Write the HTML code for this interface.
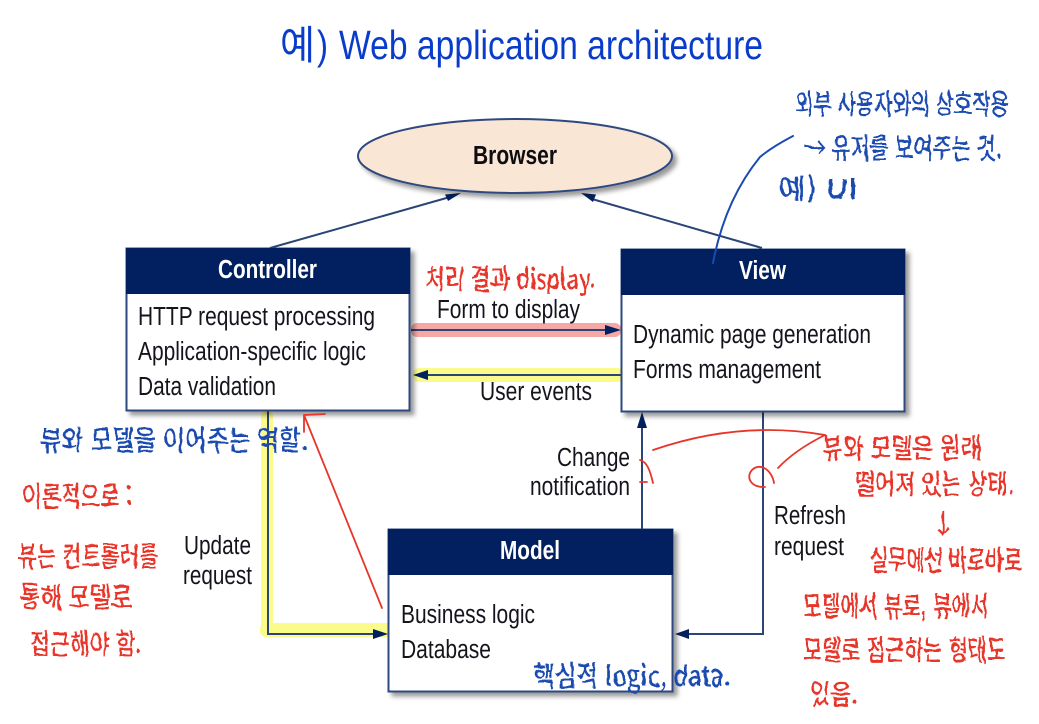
<!DOCTYPE html>
<html lang="ko">
<head>
<meta charset="utf-8">
<title>Web application architecture</title>
<style>
html,body{margin:0;padding:0;background:#fff;width:1039px;height:724px;overflow:hidden}
svg{display:block}
text{font-family:"Liberation Sans","Noto Sans CJK KR",sans-serif}
.lb{font-size:25.500px;fill:#14141c}
.hd{font-size:25.500px;font-weight:bold;fill:#fff}
.r{font-family:"Noto Sans CJK KR","Liberation Sans",sans-serif;fill:#e8352a;font-size:28px;font-weight:500}
.b{font-family:"Noto Sans CJK KR","Liberation Sans",sans-serif;fill:#1a4bb0;font-size:28px;font-weight:500}
.box{fill:#fff;stroke:#2f4a80;stroke-width:2}
.head{fill:#02205f}
.ln{stroke:#2b4576;stroke-width:2;fill:none}
.ah{fill:#02205f}
</style>
</head>
<body>
<svg width="1039" height="724" viewBox="0 0 1039 724" xmlns="http://www.w3.org/2000/svg">
<defs>
<filter id="sh" x="-10%" y="-10%" width="125%" height="125%">
<feDropShadow dx="4" dy="4" stdDeviation="2.5" flood-color="#000" flood-opacity=".4"/>
</filter>
<filter id="wob" x="-5%" y="-20%" width="110%" height="140%">
<feTurbulence type="fractalNoise" baseFrequency="0.09" numOctaves="2" seed="4"/>
<feDisplacementMap in="SourceGraphic" scale="5"/>
</filter>
</defs>

<!-- title -->
<text x="280" y="59" font-size="40" fill="#0a3ccb" textLength="35" lengthAdjust="spacingAndGlyphs" style="font-family:'Noto Sans CJK KR',sans-serif">예</text>
<text x="317" y="59" font-size="41" fill="#0a3ccb" textLength="11" lengthAdjust="spacingAndGlyphs">)</text>
<text x="339" y="59" font-size="41" fill="#0a3ccb" textLength="424" lengthAdjust="spacingAndGlyphs">Web application architecture</text>

<!-- highlights -->
<rect x="411" y="323" width="210" height="14" rx="6" fill="#f7a8a4"/>
<rect x="413" y="368" width="211" height="14" rx="6" fill="#fbfb8c"/>
<rect x="261" y="411" width="12" height="226" rx="5" fill="#fbfb8c"/>
<rect x="260" y="623" width="137" height="14" rx="6" fill="#fbfb8c"/>

<!-- connectors -->
<path class="ln" d="M270 248 L450 197"/>
<path class="ah" d="M461 193 L445 194.500 L448 201 Z"/>
<path class="ln" d="M762 248 L592 199"/>
<path class="ah" d="M581 193 L596 194.500 L593 202 Z"/>
<path class="ln" d="M411 330 H610"/>
<path class="ah" d="M621 330 L605 325 V335 Z"/>
<path class="ln" d="M622 375 H425"/>
<path class="ah" d="M413 375 L428 370 V380 Z"/>
<path class="ln" d="M268 411 V634 H380"/>
<path class="ah" d="M388 634 L373 629 V639 Z"/>
<path class="ln" d="M642 529 V425"/>
<path class="ah" d="M642 412 L637 428 H647 Z"/>
<path class="ln" d="M763 412 V634 H688"/>
<path class="ah" d="M675 634 L689 629 V639 Z"/>

<!-- browser -->
<ellipse cx="515" cy="156" rx="157" ry="37" fill="#fae6d5" stroke="#2f4a80" stroke-width="2" filter="url(#sh)"/>
<text x="473" y="164" font-size="25.500" font-weight="bold" fill="#0d0d12" textLength="84" lengthAdjust="spacingAndGlyphs">Browser</text>

<!-- controller -->
<g filter="url(#sh)"><rect class="box" x="126.500" y="248.500" width="283" height="162"/></g>
<rect class="head" x="126" y="248" width="284" height="46"/>
<text class="hd" x="218" y="278" textLength="99" lengthAdjust="spacingAndGlyphs">Controller</text>
<text class="lb" x="138" y="325" textLength="237" lengthAdjust="spacingAndGlyphs">HTTP request processing</text>
<text class="lb" x="138" y="360" textLength="228" lengthAdjust="spacingAndGlyphs">Application-specific logic</text>
<text class="lb" x="138" y="395" textLength="138" lengthAdjust="spacingAndGlyphs">Data validation</text>

<!-- view -->
<g filter="url(#sh)"><rect class="box" x="621.500" y="249.500" width="283" height="162"/></g>
<rect class="head" x="621" y="249" width="284" height="46"/>
<text class="hd" x="739" y="279" textLength="47" lengthAdjust="spacingAndGlyphs">View</text>
<text class="lb" x="633" y="343" textLength="238" lengthAdjust="spacingAndGlyphs">Dynamic page generation</text>
<text class="lb" x="633" y="378" textLength="188" lengthAdjust="spacingAndGlyphs">Forms management</text>

<!-- model -->
<g filter="url(#sh)"><rect class="box" x="388.500" y="529.500" width="284" height="162"/></g>
<rect class="head" x="388" y="529" width="285" height="46"/>
<text class="hd" x="500" y="559" textLength="60" lengthAdjust="spacingAndGlyphs">Model</text>
<text class="lb" x="401" y="623" textLength="134" lengthAdjust="spacingAndGlyphs">Business logic</text>
<text class="lb" x="401" y="658" textLength="90" lengthAdjust="spacingAndGlyphs">Database</text>

<!-- connector labels -->
<text class="lb" x="437" y="318" textLength="143" lengthAdjust="spacingAndGlyphs">Form to display</text>
<text class="lb" x="480" y="400" textLength="112" lengthAdjust="spacingAndGlyphs">User events</text>
<text class="lb" x="557" y="466" textLength="73" lengthAdjust="spacingAndGlyphs">Change</text>
<text class="lb" x="530" y="495" textLength="100" lengthAdjust="spacingAndGlyphs">notification</text>
<text class="lb" x="184" y="554" textLength="67" lengthAdjust="spacingAndGlyphs">Update</text>
<text class="lb" x="183" y="584" textLength="69" lengthAdjust="spacingAndGlyphs">request</text>
<text class="lb" x="774" y="524" textLength="72" lengthAdjust="spacingAndGlyphs">Refresh</text>
<text class="lb" x="774" y="555" textLength="70" lengthAdjust="spacingAndGlyphs">request</text>

<!-- annotation strokes -->
<path d="M793 136 Q772 147 760 157 Q725 200 713 263" fill="none" stroke="#1a4bb0" stroke-width="2" stroke-linecap="round"/>
<g fill="none" stroke="#e8352a" stroke-width="1.800" stroke-linecap="round">
<path d="M382 608 L304 415 M304 415 L325 414 M304 415 L304 432"/>
<path d="M825 435 Q740 420 653 450"/>
<path d="M825 435 Q795 450 778 468"/>
<path d="M774 483 C772 470 760 462 752 470 C745 478 752 488 765 487"/>
<path d="M653 483 C650 470 647 462 640 460 M640 482 H647"/>
</g>

<!-- handwritten notes -->
<g filter="url(#wob)">
<text class="b" x="795" y="114" font-size="26" textLength="214" lengthAdjust="spacingAndGlyphs">외부 사용자와의 상호작용</text>
<text class="b" x="805" y="158" font-size="24" textLength="197" lengthAdjust="spacingAndGlyphs">→ 유저를 보여주는 것.</text>
<text class="b" x="778" y="199" font-size="17" textLength="80" lengthAdjust="spacingAndGlyphs">예) UI</text>
<text class="b" x="40" y="450" font-size="27" textLength="268" lengthAdjust="spacingAndGlyphs">뷰와 모델을 이어주는 역할.</text>
<text class="b" x="533" y="686" font-size="26" textLength="198" lengthAdjust="spacingAndGlyphs">핵심적 logic, data.</text>
<text class="r" x="425" y="289" textLength="172" lengthAdjust="spacingAndGlyphs">처리 결과 display.</text>
<text class="r" x="22" y="506" font-size="25" textLength="110" lengthAdjust="spacingAndGlyphs">이론적으로 :</text>
<text class="r" x="18" y="566" font-size="26" textLength="140" lengthAdjust="spacingAndGlyphs">뷰는 컨트롤러를</text>
<text class="r" x="20" y="607" font-size="26" textLength="112" lengthAdjust="spacingAndGlyphs">통해 모델로</text>
<text class="r" x="30" y="654" font-size="28" textLength="112" lengthAdjust="spacingAndGlyphs">접근해야 함.</text>
<text class="r" x="822" y="458" font-size="26" textLength="160" lengthAdjust="spacingAndGlyphs">뷰와 모델은 원래</text>
<text class="r" x="855" y="494" font-size="26" textLength="159" lengthAdjust="spacingAndGlyphs">떨어져 있는 상태.</text>
<text class="r" x="929" y="534" font-size="20">↓</text>
<text class="r" x="870" y="570" font-size="26" textLength="152" lengthAdjust="spacingAndGlyphs">실무에선 바로바로</text>
<text class="r" x="803" y="616" font-size="26" textLength="186" lengthAdjust="spacingAndGlyphs">모델에서 뷰로, 뷰에서</text>
<text class="r" x="803" y="660" font-size="26" textLength="203" lengthAdjust="spacingAndGlyphs">모델로 접근하는 형태도</text>
<text class="r" x="810" y="704" font-size="26" textLength="48" lengthAdjust="spacingAndGlyphs">있음.</text>
</g>
</svg>
</body>
</html>
